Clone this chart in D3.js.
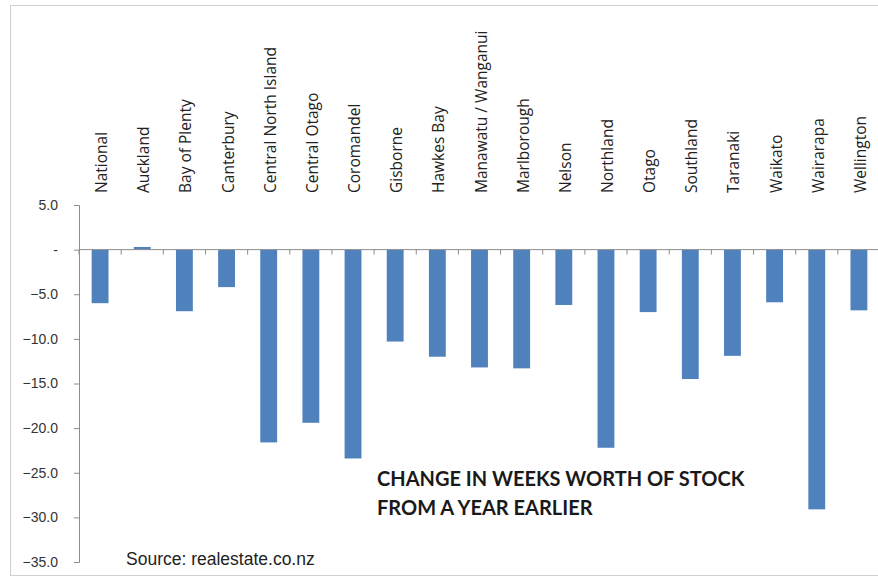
<!DOCTYPE html>
<html>
<head>
<meta charset="utf-8">
<script src="https://cdn.jsdelivr.net/npm/d3@7"></script>
<style>
  body { margin: 0; background: #fff; }
  svg { display: block; }
</style>
</head>
<body>
<div id="chart"></div>
<script>
var regions = ["National", "Auckland", "Bay of Plenty", "Canterbury", "Central North Island",
  "Central Otago", "Coromandel", "Gisborne", "Hawkes Bay", "Manawatu / Wanganui",
  "Marlborough", "Nelson", "Northland", "Otago", "Southland", "Taranaki",
  "Waikato", "Wairarapa", "Wellington"];
var change = [-6.0, 0.3, -6.9, -4.2, -21.6, -19.4, -23.4, -10.3, -12.0, -13.2,
  -13.3, -6.2, -22.2, -7.0, -14.5, -11.9, -5.9, -29.1, -6.8];
var yTicks = [5, 0, -5, -10, -15, -20, -25, -30, -35];
var titleLines = ["CHANGE IN WEEKS WORTH OF STOCK", "FROM A YEAR EARLIER"];
var source = "Source: realestate.co.nz";

var width = 878, height = 577;
var svg = d3.select("#chart").append("svg")
  .attr("width", width).attr("height", height);

// chart frame
svg.append("rect")
  .attr("x", 10.5).attr("y", 5.5)
  .attr("width", width + 10).attr("height", 570)
  .attr("fill", "#fff").attr("stroke", "#d0d0d0");

var left = 79, right = 880;
var x = d3.scaleBand().domain(regions).range([left, right]).paddingInner(0.6).paddingOuter(0.3);
var y = d3.scaleLinear().domain([-35, 5]).range([562, 205]);

// bars
svg.selectAll("rect.bar")
  .data(regions)
  .enter()
  .append("rect")
  .attr("class", "bar")
  .attr("x", function (d) { return x(d); })
  .attr("width", x.bandwidth())
  .attr("y", function (d, i) { return y(Math.max(0, change[i])); })
  .attr("height", function (d, i) { return Math.abs(y(change[i]) - y(0)); })
  .attr("fill", "#4f81bd");

// y axis
var yAxis = d3.axisLeft(y)
  .tickValues(yTicks)
  .tickSize(5)
  .tickFormat(function (d) { return d === 0 ? "-" : d3.format(".1f")(d); });
var gy = svg.append("g").attr("transform", "translate(" + left + ",0)").call(yAxis);
gy.select(".domain").attr("stroke", "#8c8c8c");
gy.selectAll(".tick line").attr("stroke", "#8c8c8c");
gy.selectAll(".tick text")
  .attr("x", -21)
  .attr("fill", "#333")
  .style("font-family", "Liberation Sans, Arial, sans-serif")
  .style("font-size", "14px");

// zero line with category ticks
var step = x.step();
var boundaries = d3.range(regions.length + 1).map(function (i) { return left + i * step; });
var gx = svg.append("g");
gx.append("line")
  .attr("x1", left).attr("x2", right)
  .attr("y1", y(0)).attr("y2", y(0))
  .attr("stroke", "#8c8c8c");
gx.selectAll("line.tk")
  .data(boundaries)
  .enter()
  .append("line")
  .attr("class", "tk")
  .attr("x1", function (d) { return d; }).attr("x2", function (d) { return d; })
  .attr("y1", y(0)).attr("y2", y(0) + 5)
  .attr("stroke", "#8c8c8c");

// category labels (rotated, above the plot)
svg.selectAll("text.cat")
  .data(regions)
  .enter()
  .append("text")
  .attr("class", "cat")
  .attr("transform", function (d) {
    return "translate(" + (x(d) + x.bandwidth() / 2 + 7) + ",193) rotate(-90)";
  })
  .attr("text-anchor", "start")
  .style("font-family", "Open Sans, Lato, sans-serif")
  .style("font-size", "15.5px")
  .attr("fill", "#222")
  .text(function (d) { return d; });

// title
svg.append("g").selectAll("text")
  .data(titleLines)
  .enter()
  .append("text")
  .attr("x", 377)
  .attr("y", function (d, i) { return 486 + i * 29; })
  .style("font-family", "Lato, Open Sans, sans-serif")
  .style("font-weight", "bold")
  .style("font-size", "20px")
  .attr("fill", "#1a1a1a")
  .text(function (d) { return d; });

svg.append("text")
  .attr("x", 126).attr("y", 565)
  .style("font-family", "Liberation Sans, Arial, sans-serif")
  .style("font-size", "17.5px")
  .attr("fill", "#222")
  .text(source);
</script>
</body>
</html>
